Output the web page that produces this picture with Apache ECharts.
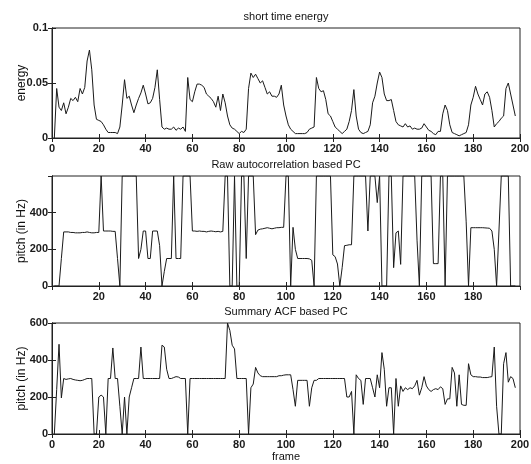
<!DOCTYPE html>
<html>
<head>
    <meta charset="utf-8">
    <title>pitch contours</title>
    <script src="https://cdn.jsdelivr.net/npm/echarts@6/dist/echarts.min.js"></script>
    <style>
        body { margin: 0; background: #fff; }
    </style>
</head>
<body>
<div id="chart" style="width:531px;height:464px;"></div>
<script type="text/javascript">
    // frame energy, frames 1..198
    var energy = [
        0, 0.045, 0.028, 0.025, 0.032, 0.022, 0.028, 0.036, 0.034, 0.037,
        0.033, 0.045, 0.040, 0.046, 0.070, 0.080, 0.062, 0.030, 0.017, 0.016,
        0.015, 0.012, 0.008, 0.005, 0.005, 0.005, 0.005, 0.004, 0.010, 0.030,
        0.053, 0.036, 0.038, 0.030, 0.023, 0.030, 0.036, 0.041, 0.048, 0.040,
        0.031, 0.032, 0.036, 0.046, 0.062, 0.035, 0.010, 0.008, 0.009, 0.008,
        0.008, 0.010, 0.007, 0.009, 0.008, 0.010, 0.006, 0.055, 0.035, 0.033,
        0.042, 0.049, 0.049, 0.048, 0.046, 0.040, 0.038, 0.036, 0.033, 0.028,
        0.038, 0.025, 0.040, 0.032, 0.020, 0.012, 0.009, 0.008, 0.006, 0.004,
        0.006, 0.005, 0.008, 0.045, 0.059, 0.055, 0.058, 0.054, 0.050, 0.052,
        0.046, 0.040, 0.042, 0.038, 0.038, 0.037, 0.040, 0.048, 0.030, 0.020,
        0.012, 0.008, 0.006, 0.004, 0.004, 0.004, 0.004, 0.004, 0.005, 0.008,
        0.009, 0.010, 0.055, 0.045, 0.042, 0.043, 0.035, 0.022, 0.020, 0.015,
        0.010, 0.008, 0.006, 0.004, 0.006, 0.008, 0.015, 0.025, 0.044, 0.020,
        0.008, 0.005, 0.004, 0.005, 0.006, 0.012, 0.032, 0.038, 0.050, 0.060,
        0.055, 0.040, 0.034, 0.034, 0.035, 0.025, 0.015, 0.012, 0.011, 0.010,
        0.013, 0.010, 0.011, 0.008, 0.009, 0.008, 0.008, 0.009, 0.013, 0.010,
        0.007, 0.006, 0.004, 0.003, 0.006, 0.006, 0.022, 0.030, 0.025, 0.012,
        0.005, 0.004, 0.003, 0.002, 0.003, 0.004, 0.005, 0.012, 0.030, 0.037,
        0.047, 0.040, 0.035, 0.030, 0.040, 0.042, 0.037, 0.025, 0.010, 0.013,
        0.015, 0.018, 0.020, 0.045, 0.050, 0.040, 0.030, 0.020
    ];
    // raw autocorrelation pitch (Hz)
    var rawPitch = [
        0, 0, 0, 150, 295, 295, 295, 292, 292, 290,
        290, 290, 292, 292, 295, 292, 290, 290, 292, 292,
        600, 300, 300, 300, 300, 298, 298, 150, 0, 600,
        600, 600, 600, 600, 600, 600, 150, 200, 300, 300,
        150, 150, 300, 300, 300, 220, 0, 80, 150, 150,
        150, 600, 150, 150, 150, 600, 600, 600, 600, 300,
        300, 298, 300, 298, 298, 295, 298, 300, 298, 296,
        298, 295, 298, 600, 600, 0, 0, 600, 0, 0,
        600, 600, 150, 600, 600, 600, 280, 305, 310, 312,
        315, 318, 315, 312, 315, 318, 318, 320, 320, 600,
        600, 0, 320, 200, 150, 150, 150, 150, 150, 148,
        140, 0, 600, 600, 600, 600, 600, 600, 600, 170,
        160, 120, 0, 100, 220, 222, 225, 225, 600, 600,
        600, 600, 600, 600, 300, 600, 600, 600, 455, 600,
        0, 0, 0, 600, 600, 100, 290, 300, 118, 600,
        600, 600, 600, 600, 600, 250, 0, 600, 600, 600,
        600, 600, 122, 122, 122, 600, 600, 0, 600, 600,
        600, 600, 600, 600, 600, 600, 350, 0, 318, 318,
        318, 318, 318, 318, 317, 316, 315, 300, 200, 0,
        300, 600, 600, 600, 600, 0, 0, 0
    ];
    // summary ACF pitch (Hz)
    var sacfPitch = [
        0, 240, 485, 195, 300, 295, 298, 300, 295, 292,
        290, 288, 290, 295, 300, 300, 300, 0, 0, 200,
        210, 200, 0, 300, 300, 465, 300, 300, 150, 0,
        200, 0, 200, 250, 300, 300, 300, 470, 300, 300,
        300, 300, 300, 300, 300, 300, 480, 470, 350, 300,
        300, 305, 310, 308, 300, 300, 300, 0, 300, 300,
        300, 300, 300, 300, 300, 300, 300, 300, 300, 300,
        300, 300, 300, 300, 600, 560, 480, 460, 300, 300,
        300, 300, 300, 0, 250, 270, 360, 330, 315, 310,
        310, 310, 310, 310, 310, 310, 315, 315, 318, 320,
        320, 320, 240, 150, 290, 290, 290, 290, 290, 150,
        250, 290, 290, 300, 300, 300, 300, 300, 300, 300,
        300, 300, 300, 300, 300, 200, 200, 230, 0, 320,
        300, 290, 160, 300, 300, 300, 250, 200, 320, 250,
        440, 350, 150, 250, 250, 0, 300, 150, 260, 230,
        250, 240, 250, 245, 260, 290, 210, 250, 310, 260,
        240, 230, 240, 245, 240, 255, 245, 160, 190, 190,
        360, 330, 150, 320, 160, 155, 155, 380, 320, 310,
        310, 308, 308, 305, 305, 305, 308, 310, 470, 150,
        0, 0, 380, 440, 280, 310, 300, 250
    ];
    var titles = ['short time energy', 'Raw autocorrelation based PC', 'Summary ACF based PC'];
    var yNames = ['energy', 'pitch (in Hz)', 'pitch (in Hz)'];

    function pairs(arr) {
        return arr.map(function (v, i) { return [i + 1, v]; });
    }

    var font = 'Liberation Sans, Arial, sans-serif';
    var grids = [
        {left: 52, top: 28, width: 468, height: 110},
        {left: 52, top: 176, width: 468, height: 110},
        {left: 52, top: 323, width: 468, height: 111}
    ];
    grids.forEach(function (g) {
        g.outerBoundsMode = 'none';
        g.containLabel = false;
        g.show = true;
        g.borderColor = '#222';
        g.borderWidth = 1;
        g.backgroundColor = 'transparent';
    });
    var yRanges = [
        {min: 0, max: 0.1, interval: 0.05},
        {min: 0, max: 600, interval: 200},
        {min: 0, max: 600, interval: 200}
    ];
    var titleTops = [11, 159, 306];

    var lineStyle = {color: '#222', width: 1};
    var tickFont = {fontFamily: font, fontSize: 11, fontWeight: 'bold', color: '#1a1a1a'};
    var xAxes = [], yAxes = [], series = [], titleList = [];
    for (var i = 0; i < 3; i++) {
        var hideEnds = (i === 1);
        xAxes.push({
            type: 'value', gridIndex: i, position: 'bottom', min: 0, max: 200, interval: 20,
            name: i === 2 ? 'frame' : '', nameLocation: 'middle', nameGap: 17, nameMoveOverlap: false,
            nameTextStyle: {fontFamily: font, fontSize: 11, color: '#111'},
            axisLine: {lineStyle: lineStyle},
            axisTick: {inside: true, length: 4, lineStyle: lineStyle},
            axisLabel: Object.assign({margin: 5, showMinLabel: !hideEnds, showMaxLabel: !hideEnds}, tickFont),
            splitLine: {show: false}
        });
        xAxes.push({
            type: 'value', gridIndex: i, position: 'top', min: 0, max: 200, interval: 20,
            axisLine: {lineStyle: lineStyle},
            axisTick: {inside: true, length: 4, lineStyle: lineStyle},
            axisLabel: {show: false},
            splitLine: {show: false}
        });
        yAxes.push({
            type: 'value', gridIndex: i, position: 'left',
            min: yRanges[i].min, max: yRanges[i].max, interval: yRanges[i].interval,
            name: yNames[i], nameLocation: 'middle', nameGap: 24, nameMoveOverlap: false,
            nameTextStyle: {fontFamily: font, fontSize: 12, color: '#111'},
            axisLine: {show: true, lineStyle: lineStyle},
            axisTick: {show: true, inside: true, length: 4, lineStyle: lineStyle},
            axisLabel: Object.assign({margin: 4, showMaxLabel: i !== 1}, tickFont),
            splitLine: {show: false}
        });
        yAxes.push({
            type: 'value', gridIndex: i, position: 'right',
            min: yRanges[i].min, max: yRanges[i].max, interval: yRanges[i].interval,
            axisLine: {show: true, lineStyle: lineStyle},
            axisTick: {show: true, inside: true, length: 4, lineStyle: lineStyle},
            axisLabel: {show: false},
            splitLine: {show: false}
        });
        titleList.push({
            text: titles[i], left: 286, top: titleTops[i], textAlign: 'center', padding: 0,
            textStyle: {fontFamily: font, fontSize: 11, fontWeight: 'normal', color: '#111'}
        });
    }

    var datasets = [energy, rawPitch, sacfPitch];
    for (var k = 0; k < 3; k++) {
        series.push({
            type: 'line', xAxisIndex: k * 2, yAxisIndex: k * 2,
            data: pairs(datasets[k]), showSymbol: false, symbol: 'none',
            lineStyle: {color: '#1a1a1a', width: 1}, silent: true
        });
        // empty series so the top/right tick axes get drawn
        series.push({
            type: 'line', xAxisIndex: k * 2 + 1, yAxisIndex: k * 2 + 1,
            data: [], symbol: 'none', silent: true
        });
    }

    var myChart = echarts.init(document.getElementById('chart'));
    myChart.setOption({
        animation: false,
        backgroundColor: '#fff',
        title: titleList,
        grid: grids,
        xAxis: xAxes,
        yAxis: yAxes,
        series: series
    });
</script>
</body>
</html>
